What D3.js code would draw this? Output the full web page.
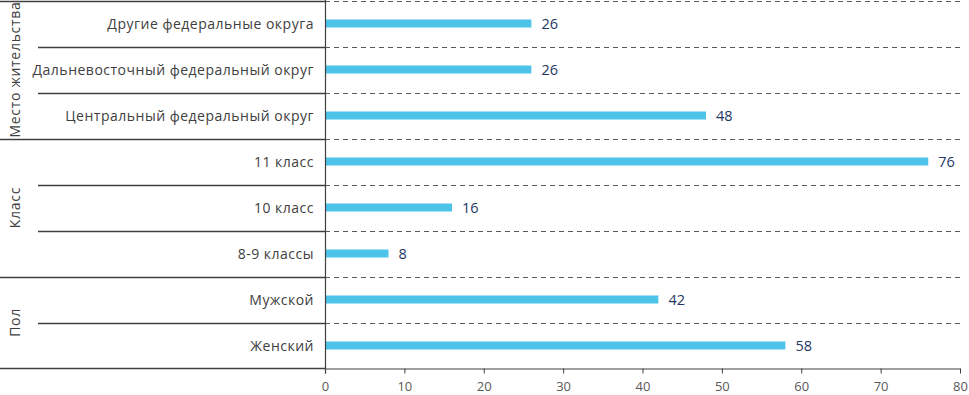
<!DOCTYPE html>
<html><head><meta charset="utf-8">
<script src="https://cdn.jsdelivr.net/npm/d3@7"></script>
<style>body{margin:0;background:#fff}svg{display:block}</style>
</head><body><svg id="c" width="969" height="395"></svg>
<script>
const categories = ["Другие федеральные округа","Дальневосточный федеральный округ","Центральный федеральный округ","11 класс","10 класс","8-9 классы","Мужской","Женский"];
const values = [26,26,48,76,16,8,42,58];
const groups = ["Место жительства","Класс","Пол"];
const groupSizes = [3,3,2];
const xTicks = [0,10,20,30,40,50,60,70,80];

(function(){
const svg = d3.select("#c");
const mLeft = 325, mRight = 960, mTop = 0.5, mBottom = 368.5;
const x = d3.scaleLinear().domain([0,80]).range([mLeft, mRight]);
const y = d3.scaleBand().domain(categories).range([mTop, mBottom]);
const font = "'Open Sans', sans-serif";

// dashed gridlines
svg.append("g").selectAll("line").data(categories).join("line")
  .attr("x1", mLeft).attr("x2", mRight)
  .attr("y1", d => Math.round(y(d)) + 0.5).attr("y2", d => Math.round(y(d)) + 0.5)
  .attr("stroke", "#595959").attr("stroke-width", 1).attr("stroke-dasharray", "5,4");

// separators on left
let idx = 0;
const sepG = svg.append("g");
groups.forEach((g, gi) => {
  const start = idx, end = idx + groupSizes[gi];
  const y0 = y(categories[start]), y1 = y(categories[end-1]) + y.bandwidth();
  sepG.append("line").attr("x1", 0).attr("x2", mLeft).attr("y1", Math.round(y0)+0.5).attr("y2", Math.round(y0)+0.5)
    .attr("stroke", "#404040").attr("stroke-width", 1.3);
  for (let k = start+1; k < end; k++) {
    const yy = Math.round(y(categories[k])) + 0.5;
    sepG.append("line").attr("x1", 38).attr("x2", mLeft).attr("y1", yy).attr("y2", yy)
      .attr("stroke", "#404040").attr("stroke-width", 1.3);
  }
  sepG.append("text").attr("transform", `translate(20,${(y0+y1)/2}) rotate(-90)`)
    .attr("text-anchor", "middle").attr("font-family", font).attr("font-size", 14)
    .attr("letter-spacing", 0.7)
    .attr("fill", "#404040").text(g);
  idx = end;
});
sepG.append("line").attr("x1", 0).attr("x2", mLeft).attr("y1", mBottom).attr("y2", mBottom)
  .attr("stroke", "#404040").attr("stroke-width", 1.3);

// bars
const bh = 8;
svg.append("g").selectAll("rect").data(values).join("rect")
  .attr("x", x(0)).attr("y", (d,i) => y(categories[i]) + y.bandwidth()/2 - bh/2)
  .attr("width", d => x(d) - x(0)).attr("height", bh).attr("fill", "#4dc3ea");

// value labels
svg.append("g").selectAll("text").data(values).join("text")
  .attr("x", d => x(d) + 10).attr("y", (d,i) => y(categories[i]) + y.bandwidth()/2)
  .attr("dy", "0.36em").attr("font-family", font).attr("font-size", 14.5)
  .attr("fill", "#1f3864").text(d => d);

// category labels
svg.append("g").selectAll("text").data(categories).join("text")
  .attr("x", 314).attr("y", d => y(d) + y.bandwidth()/2)
  .attr("dy", "0.36em").attr("text-anchor", "end").attr("font-family", font).attr("font-size", 14)
  .attr("letter-spacing", 0.5)
  .attr("fill", "#404040").text(d => d);

// y axis line
svg.append("line").attr("x1", mLeft+0.5).attr("x2", mLeft+0.5).attr("y1", 0).attr("y2", mBottom+5)
  .attr("stroke", "#404040").attr("stroke-width", 1.2);

// x axis
const xa = svg.append("g").attr("transform", `translate(0,${mBottom})`)
  .call(d3.axisBottom(x).tickValues(xTicks).tickSize(5).tickSizeOuter(0));
xa.select(".domain").attr("stroke", "#404040");
xa.selectAll(".tick line").attr("stroke", "#404040");
xa.selectAll(".tick text").attr("font-family", font).attr("font-size", 13).attr("fill", "#595959").attr("dy", "1.1em");
})();
</script></body></html>
